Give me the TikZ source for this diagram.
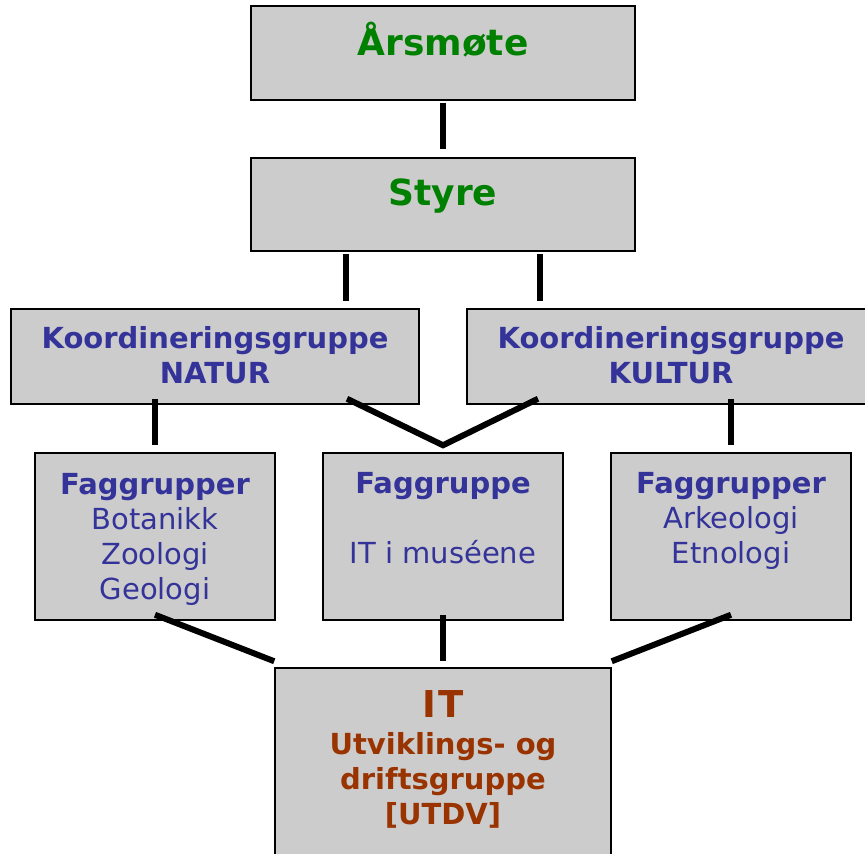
\documentclass[tikz,border=0pt]{standalone}
\usepackage{fontspec}
\setmainfont{DejaVu Sans}
\usetikzlibrary{positioning}

\definecolor{headgreen}{HTML}{008000}
\definecolor{groupblue}{HTML}{333399}
\definecolor{itbrown}{HTML}{993300}
\definecolor{boxgray}{HTML}{CCCCCC}

\begin{document}
\begin{tikzpicture}[x=1pt, y=-1pt,
  unit/.style={draw=black, fill=boxgray, line width=1.5pt, inner sep=0pt},
  link/.style={line width=6pt, black, line join=miter},
  headtext/.style={font=\fontsize{36}{42}\selectfont\bfseries, text=headgreen, anchor=base, inner sep=0pt},
  grouptext/.style={font=\fontsize{29}{35}\selectfont, text=groupblue, align=center, anchor=base, inner sep=0pt},
  ittext/.style={font=\fontsize{29}{35}\selectfont\bfseries, text=itbrown, align=center, anchor=base, inner sep=0pt}]
\useasboundingbox (0,0) rectangle (865,854);
\clip (0,0) rectangle (865,854);

% boxes
\node[unit, minimum width=384pt, minimum height=94pt] (aarsmote) at (443,53) {};
\node[unit, minimum width=384pt, minimum height=93pt] (styre) at (443,204.5) {};
\node[unit, minimum width=408pt, minimum height=95pt] (natur) at (215,356.5) {};
\node[unit, minimum width=408pt, minimum height=95pt] (kultur) at (671,356.5) {};
\node[unit, minimum width=240pt, minimum height=167pt] (fag1) at (155,536.5) {};
\node[unit, minimum width=240pt, minimum height=167pt] (fag2) at (443,536.5) {};
\node[unit, minimum width=240pt, minimum height=167pt] (fag3) at (731,536.5) {};
\node[unit, minimum width=336pt, minimum height=200pt] (it) at (443,768) {};

% texts (base = last line)
\node[headtext] (aarsmote-tx) at (443,55) {Årsmøte};
\node[headtext] (styre-tx) at (443,205) {Styre};
\node[grouptext] (natur-tx) at (215,383) {\bfseries Koordineringsgruppe\\\bfseries NATUR};
\node[grouptext] (kultur-tx) at (671,383) {\bfseries Koordineringsgruppe\\\bfseries KULTUR};
\node[grouptext] (fag1-tx) at (155,599) {{\bfseries Faggrupper}\\Botanikk\\Zoologi\\Geologi};
\node[grouptext] (fag2-tx) at (443,563) {{\bfseries Faggruppe}\\[35pt]IT i muséene};
\node[grouptext] (fag3-tx) at (731,563) {{\bfseries Faggrupper}\\Arkeologi\\Etnologi};
\node[ittext] (it-tx) at (443,824) {{\fontsize{37}{41}\selectfont I\kern3pt T}\\[2pt]Utviklings- og\\driftsgruppe\\{[UTDV]}};

% connectors
\draw[link] ([yshift=-2pt]aarsmote.south) -- ([yshift=8pt]styre.north);
\draw[link] ([xshift=-97pt,yshift=-2pt]styre.south) -- ([xshift=131pt,yshift=7pt]natur.north);
\draw[link] ([xshift=97pt,yshift=-2pt]styre.south) -- ([xshift=-131pt,yshift=7pt]kultur.north);
\draw[link] ([xshift=-60pt,yshift=6pt]natur.south) -- ([yshift=7pt]fag1.north);
\draw[link] ([xshift=60pt,yshift=6pt]kultur.south) -- ([yshift=7pt]fag3.north);
\draw[link] ([xshift=132pt,yshift=6pt]natur.south) -- ([yshift=7pt]fag2.north) -- ([xshift=-133pt,yshift=6pt]kultur.south);
\draw[link] ([yshift=6pt]fag1.south) -- ([yshift=6pt]it.north west);
\draw[link] ([yshift=6pt]fag2.south) -- ([yshift=6pt]it.north);
\draw[link] ([yshift=6pt]fag3.south) -- ([yshift=6pt]it.north east);
\end{tikzpicture}
\end{document}
